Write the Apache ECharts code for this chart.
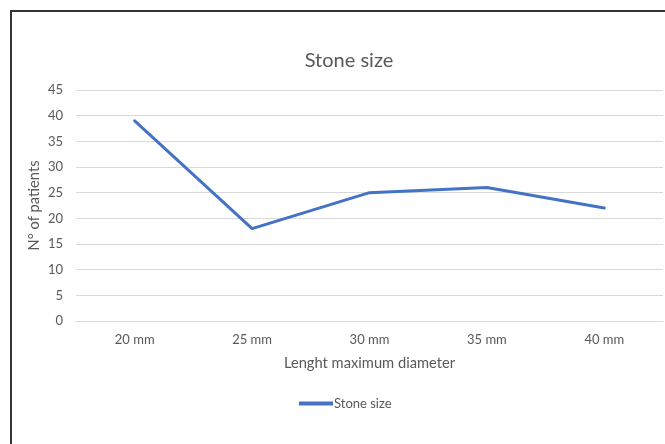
<!DOCTYPE html>
<html>
<head>
<meta charset="utf-8">
<script src="https://cdn.jsdelivr.net/npm/echarts@6/dist/echarts.min.js"></script>
<style>
html,body{margin:0;padding:0;background:#fff;}
#chart{width:665px;height:444px;}
</style>
</head>
<body>
<div id="chart"></div>
<script>
const categories = ['20 mm', '25 mm', '30 mm', '35 mm', '40 mm'];
const stoneSize = [39, 18, 25, 26, 22];
const yTicks = { min: 0, max: 45, interval: 5 };

const FONT = 'Lato';
const chart = echarts.init(document.getElementById('chart'));
chart.setOption({
  animation: false,
  backgroundColor: '#fff',
  title: {
    text: 'Stone size',
    left: 344, top: 46, textAlign: 'center',
    textStyle: { fontFamily: FONT, fontSize: 20, fontWeight: 'normal', color: '#595959' }
  },
  legend: {
    data: ['Stone size'],
    top: 397,
    left: 299,
    padding: 0,
    itemWidth: 34, itemHeight: 4, itemGap: 2,
    icon: 'rect',
    textStyle: { fontFamily: FONT, fontSize: 13, color: '#595959', padding: [0,0,0,-4] }
  },
  grid: { left: 76, right: 2, top: 90, bottom: 123, containLabel: false },
  xAxis: {
    type: 'category',
    data: categories,
    boundaryGap: true,
    name: 'Lenght maximum diameter',
    nameLocation: 'middle',
    nameGap: 35,
    nameTextStyle: { fontFamily: FONT, fontSize: 14.7, color: '#595959' },
    axisLine: { show: true, lineStyle: { color: '#d9d9d9', width: 1 } },
    axisTick: { show: false },
    axisLabel: { fontFamily: FONT, fontSize: 13, color: '#595959', margin: 12 }
  },
  yAxis: {
    type: 'value',
    min: yTicks.min, max: yTicks.max, interval: yTicks.interval,
    name: 'N° of patients',
    nameLocation: 'middle',
    nameGap: 34,
    nameMoveOverlap: false,
    nameRotate: 90,
    nameTextStyle: { fontFamily: FONT, fontSize: 14.7, color: '#595959' },
    axisLine: { show: false },
    axisTick: { show: false },
    splitLine: { lineStyle: { color: '#d9d9d9', width: 1 } },
    axisLabel: { fontFamily: FONT, fontSize: 13, color: '#595959', margin: 13 }
  },
  series: [{
    name: 'Stone size',
    type: 'line',
    data: stoneSize,
    symbol: 'none',
    lineStyle: { color: '#4472C4', width: 3, cap: 'round', join: 'round' },
    itemStyle: { color: '#4472C4' }
  }],
  graphic: [{
    type: 'rect',
    shape: { x: 11, y: 11, width: 800, height: 600 },
    style: { fill: 'none', stroke: '#333', lineWidth: 2 },
    silent: true
  }]
});
</script>
</body>
</html>
